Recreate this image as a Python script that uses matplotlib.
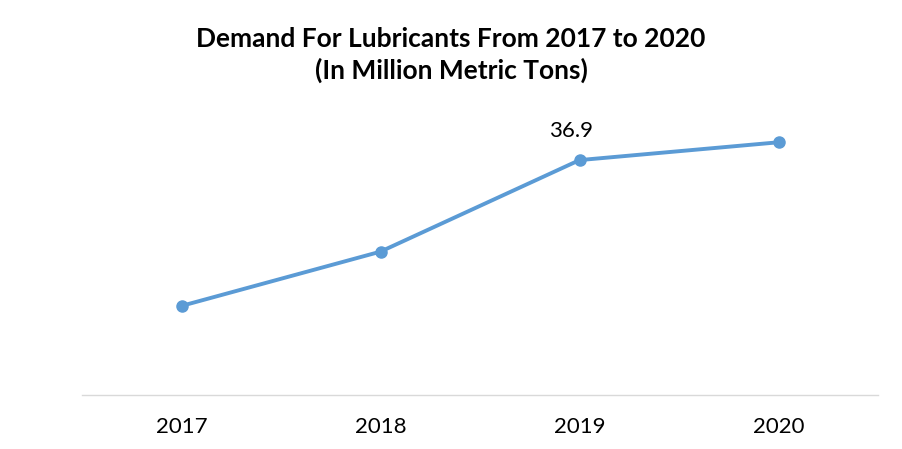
import matplotlib.pyplot as plt

# Data
years = ['2017', '2018', '2019', '2020']
demand = [35.1, 35.77, 36.9, 37.12]
labelled = {2: '36.9'}

plt.rcParams['font.family'] = ['Lato', 'DejaVu Sans']

fig = plt.figure(figsize=(9.02, 4.49), dpi=100)
ax = fig.add_axes([82 / 902, 54 / 449, 796 / 902, 324 / 449])

x = range(len(years))
ax.plot(x, demand, color='#5B9BD5', linewidth=2.8, marker='o', markersize=8,
        markerfacecolor='#5B9BD5', markeredgecolor='#5B9BD5')

for i, txt in labelled.items():
    ax.annotate(txt, (i, demand[i]), xytext=(-6, 14), textcoords='offset points',
                ha='center', va='bottom', fontsize=16, color='black')

ax.set_xlim(-0.5, 3.5)
ax.set_ylim(34, 38)
ax.set_xticks(list(x))
ax.set_xticklabels(years, fontsize=16)
ax.tick_params(axis='x', length=0, pad=16)
ax.set_yticks([])
for side in ['top', 'left', 'right']:
    ax.spines[side].set_visible(False)
ax.spines['bottom'].set_color('#D9D9D9')
ax.spines['bottom'].set_linewidth(1)

fig.text(451 / 902, 1 - 55 / 449, 'Demand For Lubricants From 2017 to 2020\n(In Million Metric Tons)',
         ha='center', va='center', fontsize=19, fontweight='bold', linespacing=1.35)

plt.savefig('out.png', dpi=100)
